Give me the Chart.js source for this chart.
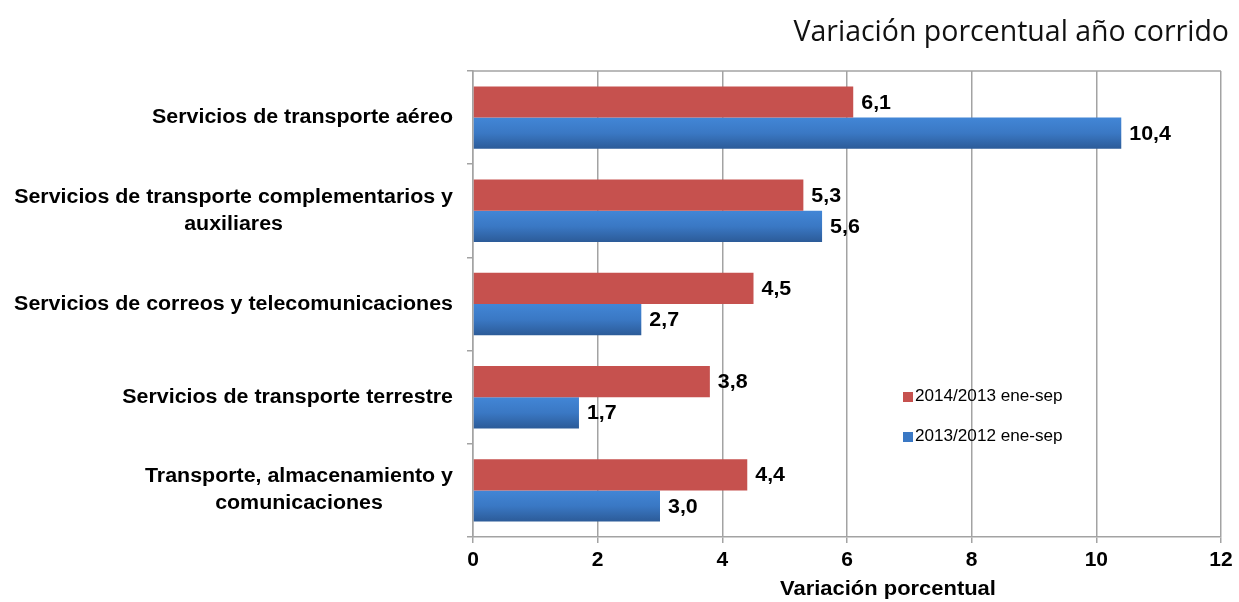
<!DOCTYPE html>
<html>
<head>
<meta charset="utf-8">
<script src="https://cdn.jsdelivr.net/npm/chart.js@4.4.0/dist/chart.umd.min.js"></script>
<style>
html, body { margin: 0; padding: 0; background: #fff; }
#wrap { width: 1239px; height: 602px; position: relative; }
</style>
</head>
<body>
<div id="wrap"><canvas id="chart"></canvas></div>
<script>
// data
var categories = [
    ["Servicios de transporte aéreo"],
    ["Servicios de transporte complementarios y", "auxiliares"],
    ["Servicios de correos y telecomunicaciones"],
    ["Servicios de transporte terrestre"],
    ["Transporte, almacenamiento y", "comunicaciones"]
];
var serie2014 = [6.1, 5.3, 4.5, 3.8, 4.4];
var serie2013 = [10.4, 5.6, 2.7, 1.7, 3.0];
var seriesNames = ["2014/2013 ene-sep", "2013/2012 ene-sep"];
var xMin = 0, xMax = 12, xStep = 2;
var chartTitle = "Variación porcentual año corrido";
var axisTitle = "Variación porcentual";

var gridColor = "#a3a3a3";
var redColor = "#c6514e";
var stretch = 1.07;   // the original text is a bit wide

function fmt(v) {
    return v.toFixed(1).replace(".", ",");
}

// text drawn a little wider, align: 'left' | 'right' | 'center'
function wideText(ctx, txt, x, y, align) {
    var w = ctx.measureText(txt).width * stretch;
    var left = x;
    if (align == 'right') left = x - w;
    if (align == 'center') left = x - w / 2;
    ctx.save();
    ctx.textAlign = 'left';
    ctx.translate(left, y);
    ctx.scale(stretch, 1);
    ctx.fillText(txt, 0, 0);
    ctx.restore();
}

// draws title, frame, y labels, value labels, legend, blue gradient
var extras = {
    id: 'extras',
    beforeDatasetsDraw: function (chart) {
        var ctx = chart.ctx;
        var meta = chart.getDatasetMeta(1);
        meta.data.forEach(function (bar) {
            var h = bar.height;
            var g = ctx.createLinearGradient(0, bar.y - h / 2, 0, bar.y + h / 2);
            g.addColorStop(0, "#4286d6");
            g.addColorStop(0.5, "#3a78c4");
            g.addColorStop(1, "#2c5b98");
            bar.options.backgroundColor = g;
        });
    },
    afterDraw: function (chart) {
        var ctx = chart.ctx;
        var area = chart.chartArea;
        var yScale = chart.scales.y;
        ctx.save();

        // top frame line
        ctx.strokeStyle = gridColor;
        ctx.lineWidth = 1.5;
        ctx.beginPath();
        ctx.moveTo(area.left, area.top);
        ctx.lineTo(area.right, area.top);
        ctx.stroke();

        // title
        ctx.fillStyle = "#111";
        ctx.font = "28.5px 'Open Sans'";
        ctx.textAlign = "right";
        ctx.textBaseline = "middle";
        ctx.fillText(chartTitle, 1229, 33);

        // category labels, block right aligned, lines centered
        ctx.font = "bold 20px 'Liberation Sans', Arial";
        ctx.fillStyle = "#000";
        var lh = 27;
        categories.forEach(function (lines, i) {
            var cy = yScale.getPixelForValue(i);
            var w = 0;
            lines.forEach(function (l) { w = Math.max(w, ctx.measureText(l).width * stretch); });
            var cx = 453 - w / 2;
            var y0 = cy - (lines.length - 1) * lh / 2;
            lines.forEach(function (l, k) {
                wideText(ctx, l, cx, y0 + k * lh, 'center');
            });
        });

        // value labels
        chart.data.datasets.forEach(function (ds, di) {
            chart.getDatasetMeta(di).data.forEach(function (bar, i) {
                wideText(ctx, fmt(ds.data[i]), bar.x + 8, bar.y + 1, 'left');
            });
        });

        // x axis title (sits right of centre in the original)
        ctx.font = "bold 20.5px 'Liberation Sans', Arial";
        wideText(ctx, axisTitle, 888, 589, 'center');

        // legend
        ctx.font = "16px 'Liberation Sans', Arial";
        var legY = [397, 437];
        var legCol = [redColor, "#3a78c4"];
        seriesNames.forEach(function (name, i) {
            ctx.fillStyle = legCol[i];
            ctx.fillRect(903, legY[i] - 5, 10, 10);
            ctx.fillStyle = "#000";
            wideText(ctx, name, 915, legY[i], 'left');
        });
        ctx.restore();
    }
};

var chart = new Chart(document.getElementById("chart"), {
    type: 'bar',
    data: {
        labels: categories,
        datasets: [
            {
                label: seriesNames[0],
                data: serie2014,
                backgroundColor: redColor,
                barPercentage: 1.0,
                categoryPercentage: 0.67
            },
            {
                label: seriesNames[1],
                data: serie2013,
                backgroundColor: function () { return "#3a78c4"; },
                barPercentage: 1.0,
                categoryPercentage: 0.67
            }
        ]
    },
    options: {
        indexAxis: 'y',
        responsive: true,
        maintainAspectRatio: false,
        animation: false,
        layout: { padding: { top: 71, right: 18, left: 0, bottom: 0 } },
        plugins: {
            legend: { display: false },
            tooltip: { enabled: false }
        },
        scales: {
            x: {
                min: xMin,
                max: xMax,
                ticks: {
                    stepSize: xStep,
                    padding: 5,
                    color: "#000",
                    font: { family: "'Liberation Sans', Arial", size: 21, weight: 'bold' }
                },
                grid: { color: gridColor, lineWidth: 1.5, tickLength: 6, tickColor: gridColor },
                border: { color: gridColor, width: 1.5 },
                title: { display: false },
                afterFit: function (scale) { scale.height = 65; }
            },
            y: {
                ticks: { display: false },
                grid: {
                    offset: true,
                    drawOnChartArea: false,
                    drawTicks: true,
                    tickLength: 6,
                    color: gridColor,
                    lineWidth: 1.5
                },
                border: { color: gridColor, width: 1.5 },
                afterFit: function (scale) { scale.width = 473; }
            }
        }
    },
    plugins: [extras]
});
</script>
</body>
</html>
